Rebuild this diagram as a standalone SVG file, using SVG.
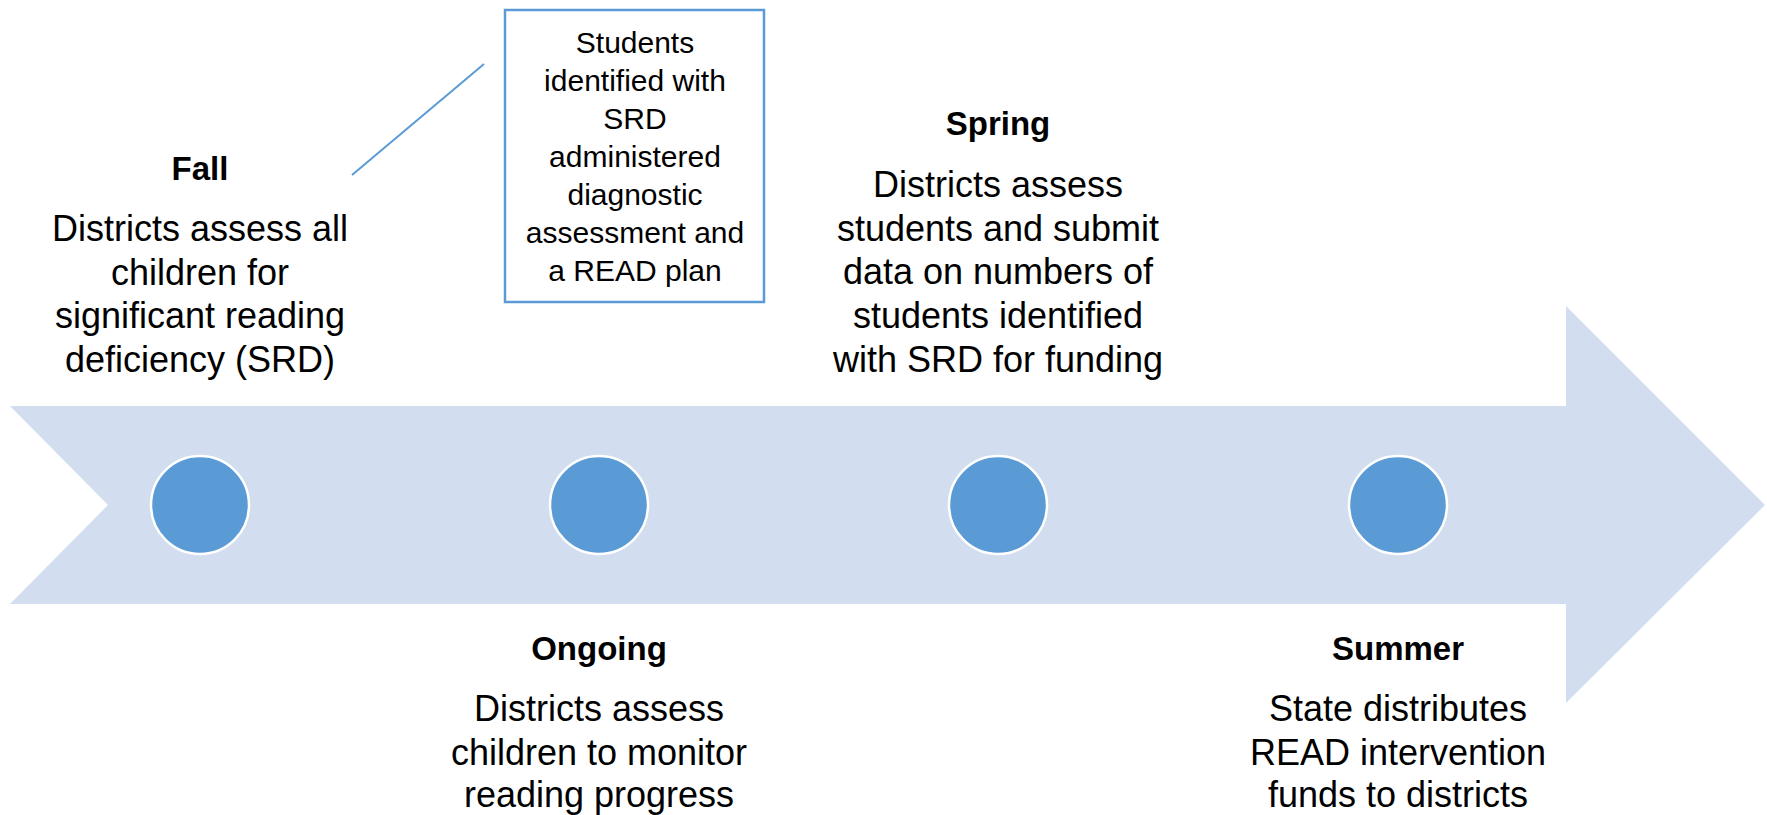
<svg xmlns="http://www.w3.org/2000/svg" width="1767" height="815" viewBox="0 0 1767 815">
<style>
.hd{font-family:"Liberation Sans",Arial,sans-serif;font-weight:bold;font-size:33px;fill:#000;text-anchor:middle}
.bd{font-family:"Liberation Sans",Arial,sans-serif;font-size:36px;fill:#000;text-anchor:middle}
.bx{font-family:"Liberation Sans",Arial,sans-serif;font-size:30px;fill:#000;text-anchor:middle}
.dot{fill:#5B9BD5;stroke:#FFFFFF;stroke-width:2.5}
</style>
<rect width="1767" height="815" fill="#FFFFFF"/>
<g id="timeline-arrow">
<polygon points="10,406 1566,406 1566,306 1765,505 1566,703 1566,604 10,604 108,505" fill="#D2DEEF"/>
</g>
<g id="connectors">
<line x1="352" y1="175" x2="484" y2="64" stroke="#5B9BD5" stroke-width="2"/>
</g>
<g id="node-fall">
<circle class="dot" cx="200" cy="505" r="49"/>
<text class="hd" x="200" y="180">Fall</text>
<text class="bd" x="200" y="241">Districts assess all</text>
<text class="bd" x="200" y="285">children for</text>
<text class="bd" x="200" y="328">significant reading</text>
<text class="bd" x="200" y="372">deficiency (SRD)</text>
</g>
<g id="node-callout">
<rect x="505" y="10" width="259" height="292" fill="#FFFFFF" stroke="#5B9BD5" stroke-width="2.5"/>
<text class="bx" x="635" y="53">Students</text>
<text class="bx" x="635" y="91">identified with</text>
<text class="bx" x="635" y="129">SRD</text>
<text class="bx" x="635" y="167">administered</text>
<text class="bx" x="635" y="205">diagnostic</text>
<text class="bx" x="635" y="243">assessment and</text>
<text class="bx" x="635" y="281">a READ plan</text>
</g>
<g id="node-ongoing">
<circle class="dot" cx="599" cy="505" r="49"/>
<text class="hd" x="599" y="660">Ongoing</text>
<text class="bd" x="599" y="721">Districts assess</text>
<text class="bd" x="599" y="765">children to monitor</text>
<text class="bd" x="599" y="807">reading progress</text>
</g>
<g id="node-spring">
<circle class="dot" cx="998" cy="505" r="49"/>
<text class="hd" x="998" y="135">Spring</text>
<text class="bd" x="998" y="197">Districts assess</text>
<text class="bd" x="998" y="241">students and submit</text>
<text class="bd" x="998" y="284">data on numbers of</text>
<text class="bd" x="998" y="328">students identified</text>
<text class="bd" x="998" y="372">with SRD for funding</text>
</g>
<g id="node-summer">
<circle class="dot" cx="1398" cy="505" r="49"/>
<text class="hd" x="1398" y="660">Summer</text>
<text class="bd" x="1398" y="721">State distributes</text>
<text class="bd" x="1398" y="765">READ intervention</text>
<text class="bd" x="1398" y="807">funds to districts</text>
</g>
</svg>
